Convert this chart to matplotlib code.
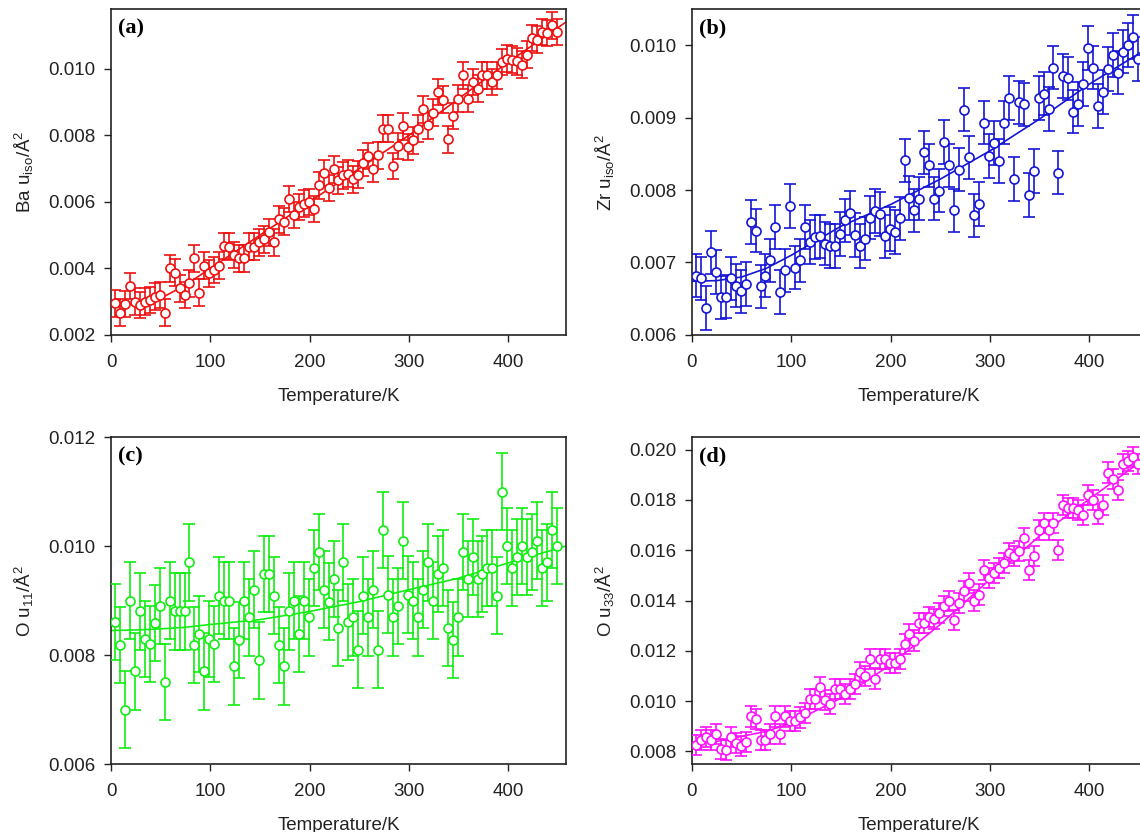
import matplotlib
matplotlib.use("Agg")
import matplotlib.pyplot as plt

plt.rcParams['font.family'] = ['Liberation Sans', 'DejaVu Sans']
plt.rcParams['mathtext.fontset'] = 'custom'
plt.rcParams['mathtext.rm'] = 'Liberation Sans'
plt.rcParams['mathtext.it'] = 'Liberation Sans:italic'

# Temperatures (K) of the measurements
temps = [4, 9, 14, 19, 24, 29, 34, 39, 44, 49, 54, 59, 64, 69, 74, 79, 84, 89, 94, 99,
         104, 109, 114, 119, 124, 129, 134, 139, 144, 149, 154, 159, 164, 169, 174, 179,
         184, 189, 194, 199, 204, 209, 214, 219, 224, 229, 234, 239, 244, 249, 254, 259,
         264, 269, 274, 279, 284, 289, 294, 299, 304, 309, 314, 319, 324, 329, 334, 339,
         344, 349, 354, 359, 364, 369, 374, 379, 384, 389, 394, 399, 404, 409, 414, 419,
         424, 429, 434, 439, 444, 449]

# (a) Ba u_iso
ba_uiso = [0.00295, 0.00267, 0.00293, 0.00347, 0.0030, 0.0029, 0.0030, 0.00305, 0.00315, 0.0032,
           0.00267, 0.0040, 0.00387, 0.0034, 0.0032, 0.00355, 0.0043, 0.00327, 0.00408, 0.00385,
           0.00395, 0.00408, 0.00467, 0.00465, 0.0044, 0.0043, 0.0043, 0.00465, 0.00465, 0.00478,
           0.00487, 0.00508, 0.00478, 0.00547, 0.0054, 0.00608, 0.0056, 0.00585, 0.00595, 0.0060,
           0.00578, 0.0065, 0.00687, 0.00642, 0.00698, 0.00665, 0.0068, 0.00685, 0.00668, 0.00682,
           0.00717, 0.00738, 0.0070, 0.0074, 0.0082, 0.0082, 0.00708, 0.00768, 0.00827, 0.00765,
           0.00785, 0.0082, 0.00878, 0.0083, 0.00868, 0.0093, 0.00907, 0.00788, 0.00858, 0.0091,
           0.0098, 0.0091, 0.0096, 0.0094, 0.0098, 0.0098, 0.0096, 0.0098, 0.0102, 0.0103,
           0.01027, 0.01022, 0.01012, 0.01042, 0.01092, 0.01087, 0.0111, 0.01107, 0.0113, 0.0111]
ba_err = 0.0004

# (b) Zr u_iso
zr_uiso = [0.00682, 0.00678, 0.00637, 0.00714, 0.00687, 0.00652, 0.00653, 0.00678, 0.00668, 0.0066,
           0.0067, 0.00756, 0.00744, 0.00667, 0.00682, 0.00703, 0.00749, 0.00659, 0.00689, 0.00778,
           0.00693, 0.00703, 0.00749, 0.00728, 0.00735, 0.00736, 0.00726, 0.00723, 0.00723, 0.00739,
           0.00758, 0.00768, 0.00738, 0.00723, 0.00733, 0.00762, 0.00771, 0.00767, 0.00736, 0.00746,
           0.00742, 0.00761, 0.00841, 0.00789, 0.00772, 0.00788, 0.00852, 0.00834, 0.00788, 0.00799,
           0.00866, 0.00834, 0.00772, 0.00828, 0.00911, 0.00845, 0.00765, 0.00781, 0.00893, 0.00847,
           0.00865, 0.0084, 0.00893, 0.00927, 0.00815, 0.00921, 0.00918, 0.00793, 0.00826, 0.00927,
           0.00933, 0.00912, 0.00969, 0.00824, 0.00957, 0.00954, 0.00908, 0.00919, 0.00946, 0.00996,
           0.00969, 0.00916, 0.00935, 0.00967, 0.00986, 0.00962, 0.00991, 0.0100, 0.01011, 0.00981]
zr_err = 0.0003

# (c) O u11
o_u11 = [0.0086, 0.00819, 0.0070, 0.0090, 0.0077, 0.0088, 0.00829, 0.0082, 0.00859, 0.0089,
         0.0075, 0.0090, 0.0088, 0.0088, 0.0088, 0.0097, 0.00819, 0.00839, 0.0077, 0.00829,
         0.0082, 0.00909, 0.0090, 0.0090, 0.00779, 0.00828, 0.0090, 0.00869, 0.0092, 0.0079,
         0.00949, 0.00949, 0.00909, 0.00819, 0.00779, 0.0088, 0.0090, 0.00839, 0.0090, 0.00869,
         0.0096, 0.00989, 0.0092, 0.00898, 0.0094, 0.0085, 0.0097, 0.0086, 0.00869, 0.0081,
         0.00909, 0.00869, 0.0092, 0.0081, 0.01029, 0.00911, 0.00869, 0.0089, 0.0101, 0.00911,
         0.0090, 0.00869, 0.0092, 0.0097, 0.0090, 0.00949, 0.0096, 0.0085, 0.00828, 0.00869,
         0.00989, 0.0094, 0.0098, 0.0094, 0.00949, 0.0096, 0.0096, 0.00909, 0.0110, 0.0100,
         0.0096, 0.0098, 0.0100, 0.0098, 0.00989, 0.0101, 0.0096, 0.0097, 0.01029, 0.0100]
o11_err = 0.0007

# (d) O u33
o_u33 = [0.00827, 0.00846, 0.00856, 0.00846, 0.00869, 0.00811, 0.00807, 0.00856, 0.00833, 0.0082,
         0.00837, 0.00939, 0.0093, 0.00846, 0.00846, 0.00869, 0.00939, 0.00869, 0.00939, 0.0092,
         0.0092, 0.00935, 0.00953, 0.0101, 0.0101, 0.01055, 0.01006, 0.00989, 0.0105, 0.0105,
         0.01028, 0.0105, 0.01068, 0.01116, 0.01099, 0.01169, 0.0109, 0.01169, 0.01169, 0.01152,
         0.01152, 0.01169, 0.01228, 0.01267, 0.01241, 0.01311, 0.01311, 0.01334, 0.01325, 0.01351,
         0.01378, 0.01398, 0.01321, 0.01391, 0.01437, 0.01471, 0.0140, 0.01424, 0.0152, 0.01491,
         0.0151, 0.0153, 0.0155, 0.0159, 0.01577, 0.01597, 0.01647, 0.0152, 0.01577, 0.01679,
         0.0171, 0.01679, 0.0171, 0.0160, 0.0178, 0.01767, 0.01767, 0.01759, 0.0174, 0.0182,
         0.01799, 0.01743, 0.01779, 0.01909, 0.01882, 0.01839, 0.01942, 0.01955, 0.01969, 0.01942]
o33_err = 0.0004

# fitted curves
fit_temps = [0, 25, 50, 75, 100, 150, 200, 250, 300, 350, 400, 458]
ba_fit = [0.0029, 0.00293, 0.0031, 0.0035, 0.0040, 0.0050, 0.0060, 0.0070, 0.0080, 0.0091, 0.0102, 0.0114]
zr_fit = [0.00674, 0.00675, 0.0068, 0.00692, 0.0071, 0.0075, 0.0078, 0.00815, 0.00854, 0.00898, 0.00946, 0.00995]
o11_fit = [0.00845, 0.00846, 0.00848, 0.00851, 0.00856, 0.00865, 0.0088, 0.00898, 0.0092, 0.00941, 0.00969, 0.0100]
o33_fit = [0.00833, 0.0084, 0.0086, 0.0088, 0.00913, 0.01012, 0.01145, 0.01305, 0.01484, 0.01657, 0.01803, 0.0197]

panels = [
    ("(a)", ba_uiso, ba_err, ba_fit, '#ee1111', 'Ba u$_{\\mathrm{iso}}$/Å$^2$',
     (0.002, 0.0118), [0.002, 0.004, 0.006, 0.008, 0.010], [0.0974, 0.5974, 0.399, 0.392]),
    ("(b)", zr_uiso, zr_err, zr_fit, '#1515d5', 'Zr u$_{\\mathrm{iso}}$/Å$^2$',
     (0.006, 0.0105), [0.006, 0.007, 0.008, 0.009, 0.010], [0.607, 0.5974, 0.399, 0.392]),
    ("(c)", o_u11, o11_err, o11_fit, '#11ee11', 'O u$_{11}$/Å$^2$',
     (0.006, 0.012), [0.006, 0.008, 0.010, 0.012], [0.0974, 0.0817, 0.399, 0.393]),
    ("(d)", o_u33, o33_err, o33_fit, '#ff11ff', 'O u$_{33}$/Å$^2$',
     (0.0075, 0.0205), [0.008, 0.010, 0.012, 0.014, 0.016, 0.018, 0.020], [0.607, 0.0817, 0.399, 0.393]),
]

fig = plt.figure(figsize=(11.4, 8.32), dpi=100)

for tag, vals, err, fit, col, ylab, ylim, yticks, rect in panels:
    ax = fig.add_axes(rect)
    ax.errorbar(temps, vals, yerr=err, fmt='o', color=col, mfc='white', mec=col,
                ms=6.5, mew=1.2, elinewidth=1.2, capsize=4.5, capthick=1.2, zorder=3)
    ax.plot(fit_temps, fit, color=col, lw=1.2, zorder=2)
    ax.set_xlim(0, 458)
    ax.set_ylim(*ylim)
    ax.set_xticks([0, 100, 200, 300, 400])
    ax.set_yticks(yticks)
    ax.yaxis.set_major_formatter(matplotlib.ticker.FormatStrFormatter('%.3f'))
    ax.tick_params(direction='out', length=5, width=1.0, labelsize=13.5,
                   colors='#222222', pad=6, top=False, right=False)
    ax.tick_params(axis='x', pad=9)
    for sp in ax.spines.values():
        sp.set_linewidth(1.2)
        sp.set_color('#222222')
    ax.set_xlabel('Temperature/K', fontsize=13.5, color='#222222', labelpad=12)
    ax.set_ylabel(ylab, fontsize=13.5, color='#222222')
    ax.yaxis.set_label_coords(-0.165, 0.5)
    ax.text(0.015, 0.94, tag, transform=ax.transAxes, fontsize=16, fontweight='bold',
            family='Liberation Serif', va='center', ha='left')

plt.savefig("out.png", dpi=100)
